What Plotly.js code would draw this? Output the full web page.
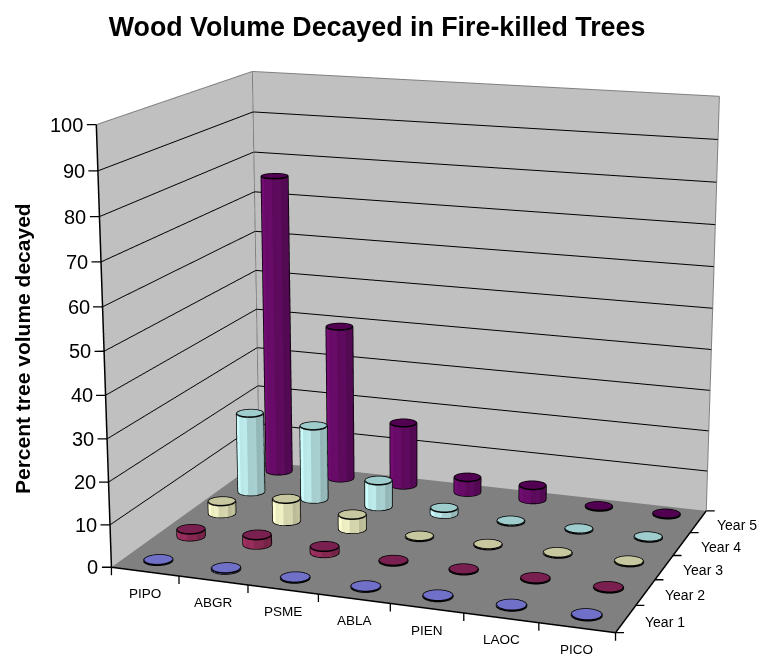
<!DOCTYPE html>
<html><head><meta charset="utf-8">
<script src="https://cdn.plot.ly/plotly-3.0.1.min.js"></script>
<style>html,body{margin:0;padding:0;width:758px;height:658px;overflow:hidden;background:#fff}
#c{position:absolute;left:-718px;top:-658px}</style></head><body><div id="c"></div>
<script>
const species=['PIPO','ABGR','PSME','ABLA','PIEN','LAOC','PICO'];
const years=['Year 1','Year 2','Year 3','Year 4','Year 5'];
const year1=[0.2,0.3,0.2,0.2,0.2,0.2,0.2];
const year2=[1.7,2.3,1.5,0.2,0.2,0.2,0.2];
const year3=[3,5.5,3.5,0.2,0.2,0.2,0.2];
const year4=[20,18.5,6.5,1.5,0.2,0.2,0.2];
const year5=[75.5,39,16,3.8,3.6,0.2,0.2];
const series=[year1,year2,year3,year4,year5];
const sideColors=[[120,120,216],[160,48,96],[255,255,208],[200,248,248],[112,12,112]];
const capColors=['#7070c8','#7a2050','#c8c8a0','#9fcccc','#520052'];
const zTicks=[0,10,20,30,40,50,60,70,80,90,100];
const gridVals=[10,20,30,40,50,60,70,80,90];

const W=2274,H=1974,OX=718,OY=658;
const asp={x:1.164,y:0.83,z:1};
const eye={x:1.759,y:-4.916,z:1.347};
const rx=0.195, ry=rx*(asp.x/7)/(asp.y/5), N=18;
const t0=Math.atan2(-eye.x,eye.y);
const yPos=j=>2.55+(j-2)*1.05;
const traces=[];
series.forEach((vals,j)=>{
  const s={x:[],y:[],z:[],i:[],j:[],k:[],facecolor:[]}, c={x:[],y:[],z:[],i:[],j:[],k:[]}, l={x:[],y:[],z:[]};
  vals.forEach((v,i)=>{
    const cx=i+0.5-0.02*(6-i)/6, cy=yPos(j), b=s.x.length, cb=c.x.length;
    for(let n=0;n<N;n++){
      const t=2*Math.PI*n/N, px=cx+rx*Math.cos(t), py=cy+ry*Math.sin(t);
      s.x.push(px,px); s.y.push(py,py); s.z.push(0,v);
      c.x.push(px); c.y.push(py); c.z.push(v);
      const m=(n+1)%N;
      s.i.push(b+2*n,b+2*n+1); s.j.push(b+2*m,b+2*m); s.k.push(b+2*n+1,b+2*m+1);
      const u=Math.cos(t+Math.PI/N-t0), f=0.86+0.15*u+(n%2?0.03:-0.03), col='rgb('+sideColors[j].map(q=>Math.min(255,Math.round(q*f))).join(',')+')';
      s.facecolor.push(col,col);
      if(n>0&&n<N-1){c.i.push(cb);c.j.push(cb+n);c.k.push(cb+n+1);}
    }
    for(let n=0;n<=N;n++){const t=2*Math.PI*n/N;l.x.push(cx+rx*Math.cos(t));l.y.push(cy+ry*Math.sin(t));l.z.push(v);}
    l.x.push(null);l.y.push(null);l.z.push(null);
    [t0,t0+Math.PI].forEach(t=>{
      l.x.push(cx+rx*Math.cos(t),cx+rx*Math.cos(t),null);
      l.y.push(cy+ry*Math.sin(t),cy+ry*Math.sin(t),null);
      l.z.push(0,v,null);
    });
    for(let n=0;n<=N/2;n++){const t=t0+Math.PI*n/(N/2);l.x.push(cx+rx*Math.cos(t));l.y.push(cy+ry*Math.sin(t));l.z.push(0);}
    l.x.push(null);l.y.push(null);l.z.push(null);
  });
  traces.push({type:'mesh3d',...s,flatshading:true,hoverinfo:'skip',showscale:false,
    lighting:{ambient:1,diffuse:0,specular:0,fresnel:0}});
  traces.push({type:'mesh3d',...c,color:capColors[j],hoverinfo:'skip',showscale:false,
    lighting:{ambient:1,diffuse:0,specular:0,fresnel:0}});
  traces.push({type:'scatter3d',mode:'lines',...l,line:{color:'#000',width:3},hoverinfo:'skip',showlegend:false});
});
traces.push({type:'scatter3d',mode:'lines',hoverinfo:'skip',showlegend:false,line:{color:'#000',width:3},
  x:[0,0,null,0,7,7],y:[0,0,null,0,0,5],z:[0,100,null,0,0,0]});
traces.push({type:'scatter3d',mode:'lines',hoverinfo:'skip',showlegend:false,line:{color:'#808080',width:2},
  x:[0,0,7,7,null,0,0],y:[0,5,5,5,null,5,5],z:[100,100,100,0,null,0,100]});
const fam='Liberation Sans, Arial, sans-serif';
const anns=[];
const tick=(x,y,z,dx,dy)=>anns.push({x,y,z,text:' ',font:{size:1},borderpad:0,showarrow:true,arrowhead:0,arrowwidth:1.3,arrowcolor:'#000',standoff:0,xanchor:'center',yanchor:'middle',ax:dx,ay:dy});
species.forEach((t,i)=>anns.push({x:i+0.5,y:0,z:0,text:t,showarrow:false,yshift:-22,font:{family:fam,size:13.5,color:'#000'}}));
for(let i=0;i<=7;i++)tick(i,0,0,0,9);
years.forEach((t,j)=>anns.push({x:7,y:j+0.5,z:0,text:t,showarrow:false,xanchor:'left',xshift:17,yshift:-3,font:{family:fam,size:14,color:'#000'}}));
for(let j=0;j<=5;j++)tick(7,j,0,9,0);
zTicks.forEach(t=>{anns.push({x:0,y:0,z:t,text:String(t),showarrow:false,xanchor:'right',xshift:-11,font:{family:fam,size:20,color:'#000'}});tick(0,0,t,-10,0.01);});
const ax=(o)=>Object.assign({showticklabels:false,title:{text:''},showspikes:false,zeroline:false,showline:false,ticks:'',gridcolor:'#000',gridwidth:2,showbackground:true},o);
const layout={width:W,height:H,margin:{l:0,r:0,t:0,b:0},paper_bgcolor:'#fff',showlegend:false,
 title:{text:'<b>Wood Volume Decayed in Fire-killed Trees</b>',font:{family:fam,size:26.8,color:'#000'},x:(OX+377)/W,xanchor:'center',y:1-(OY+27)/H,yanchor:'middle'},
 annotations:[{xref:'paper',yref:'paper',x:(OX+22)/W,y:1-(OY+349)/H,xanchor:'center',yanchor:'middle',text:'<b>Percent tree volume decayed</b>',textangle:-90,showarrow:false,font:{family:fam,size:21,color:'#000'}}],
 scene:{domain:{x:[0,1],y:[0,1]},aspectmode:'manual',aspectratio:asp,
  camera:{eye:eye,up:{x:0,y:0,z:1},center:{x:0,y:0,z:0},projection:{type:'perspective'}},
  xaxis:ax({range:[0,7],tickmode:'array',tickvals:[0,1,2,3,4,5,6,7],showgrid:false,backgroundcolor:'#c0c0c0'}),
  yaxis:ax({range:[0,5],tickmode:'array',tickvals:[0,1,2,3,4,5],showgrid:false,backgroundcolor:'#c0c0c0'}),
  zaxis:ax({range:[0,100],tickmode:'array',tickvals:gridVals,backgroundcolor:'#808080'}),
  annotations:anns}};
Plotly.newPlot('c',traces,layout,{displayModeBar:false});
</script></body></html>
